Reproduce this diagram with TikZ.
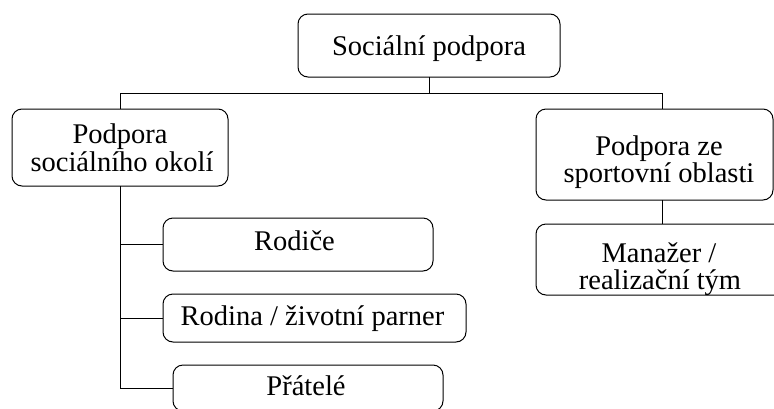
\documentclass[tikz,border=0pt]{standalone}
\usepackage{fontspec}
\setmainfont{Liberation Serif}
\begin{document}
\begin{tikzpicture}[x=1pt,y=-1pt,
  box/.style={draw, rounded corners=10pt, line width=1pt, inner sep=0pt, outer sep=0pt},
  lbl/.style={anchor=base, inner sep=0pt, font=\fontsize{28.5}{28}\selectfont},
  link/.style={line width=1pt}]
\useasboundingbox (0,0) rectangle (774,408);
\clip (0,0) rectangle (774,408);

% boxes
\node[box, minimum width=262pt, minimum height=63pt] (root)   at (429,45.5)  {};
\node[box, minimum width=216pt, minimum height=77pt] (lbox)   at (120,147.5) {};
\node[box, minimum width=237pt, minimum height=91pt] (rbox)   at (654.5,154.5) {};
\node[box, minimum width=274pt, minimum height=71pt] (man)    at (673,259.5) {};
\node[box, minimum width=270pt, minimum height=53pt] (rod)    at (298,244.5) {};
\node[box, minimum width=303pt, minimum height=48pt] (rodina) at (314.5,318) {};
\node[box, minimum width=270pt, minimum height=46pt] (prat)   at (308,388)   {};

% labels
\node[lbl] (root-t)  at (429,55)  {Sociální podpora};
\node[lbl] (lbox-t1) at (120,143) {Podpora};
\node[lbl] (lbox-t2) at (122,171) {sociálního okolí};
\node[lbl] (rbox-t1) at (659,155) {Podpora ze};
\node[lbl] (rbox-t2) at (659,182) {sportovní oblasti};
\node[lbl] (man-t1)  at (659,262) {Manažer /};
\node[lbl] (man-t2)  at (660,289) {realizační tým};
\node[lbl] (rod-t)   at (294.5,250) {Rodiče};
\node[lbl] (rodina-t) at (312.5,325) {Rodina / životní parner};
\node[lbl] (prat-t)  at (306,395) {Přátelé};

% connectors
\coordinate (hl) at (120,93);
\coordinate (hr) at (662,93);
\draw[link] (root.south) -- (root.south |- hl);
\draw[link] (lbox.north) -- (hl) -- (hr) -- (hr |- rbox.north);
\draw[link] (hr |- rbox.south) -- (hr |- man.north);
\draw[link] (lbox.south) |- (prat.west);
\draw[link] (lbox.south |- rod.west) -- (rod.west);
\draw[link] (lbox.south |- rodina.west) -- (rodina.west);
\end{tikzpicture}
\end{document}
